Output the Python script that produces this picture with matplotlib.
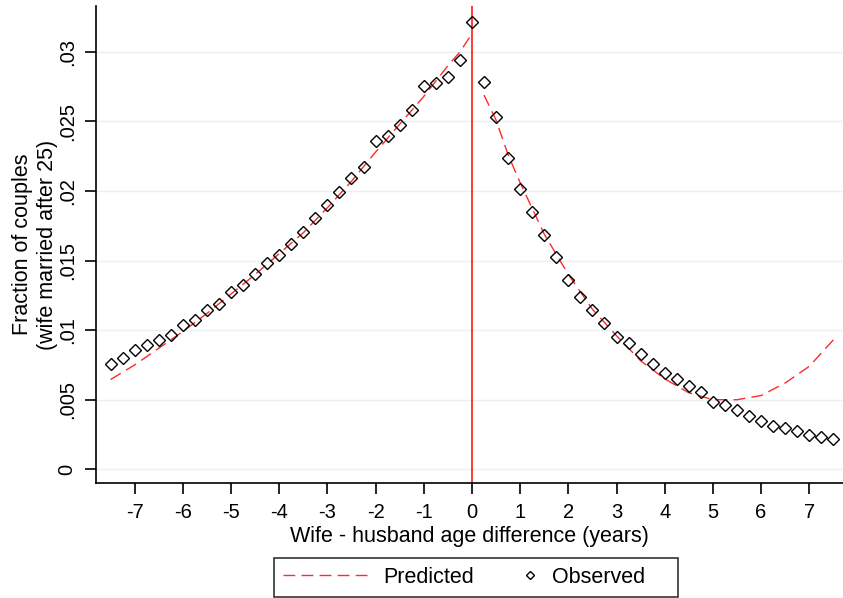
import matplotlib
matplotlib.use("Agg")
import matplotlib.pyplot as plt
from matplotlib.legend_handler import HandlerLine2D
import numpy as np

plt.rcParams['font.family'] = ['Liberation Sans', 'DejaVu Sans']

# observed fractions, age difference -7.5 .. 7.5 in quarter years
obs_x = np.arange(-7.5, 7.51, 0.25)
obs_y = [0.0076, 0.0080, 0.00856, 0.00892, 0.00928, 0.00964, 0.01038, 0.01072,
         0.01146, 0.01187, 0.01273, 0.01326, 0.01403, 0.01482, 0.0154, 0.01619,
         0.01705, 0.01806, 0.01899, 0.01995, 0.02091, 0.02175, 0.02357, 0.02396,
         0.02477, 0.02585, 0.02755, 0.02779, 0.0282, 0.0294, 0.03218,
         0.02786, 0.0253, 0.0224, 0.02014, 0.01851, 0.01683, 0.01527, 0.0136,
         0.0124, 0.01144, 0.01048, 0.00952, 0.00909, 0.00832, 0.0076, 0.00693,
         0.0065, 0.00597, 0.00556, 0.00484, 0.00465, 0.00424, 0.00381, 0.00347,
         0.00312, 0.00297, 0.00273, 0.00245, 0.00232, 0.00214]

# predicted curve, wife older / younger side
pred_left_x = [-7.5, -7.0, -6.5, -6.0, -5.5, -5.0, -4.5, -4.0, -3.5, -3.0,
               -2.5, -2.0, -1.5, -1.0, -0.5, -0.25, 0.0]
pred_left_y = [0.00645, 0.0075, 0.0087, 0.0099, 0.0112, 0.0126, 0.0140, 0.0155,
               0.0170, 0.0188, 0.0207, 0.0228, 0.0248, 0.0268, 0.0290, 0.0300, 0.0313]
pred_right_x = [0.25, 0.5, 0.75, 1.0, 1.5, 2.0, 2.5, 3.0, 3.5, 4.0, 4.5,
                5.0, 5.5, 6.0, 6.5, 7.0, 7.5]
pred_right_y = [0.0269, 0.0251, 0.0226, 0.0206, 0.0169, 0.0140, 0.0115, 0.0096,
                0.0078, 0.0065, 0.0055, 0.0050, 0.0050, 0.0053, 0.0062, 0.0074, 0.0093]

xticks = list(range(-7, 8))
yticks = [0, 0.005, 0.01, 0.015, 0.02, 0.025, 0.03]
ytick_labels = ['0', '.005', '.01', '.015', '.02', '.025', '.03']


class MarkerRight(HandlerLine2D):
    # put the legend marker close to its label (marker sits at the middle point)
    def get_xdata(self, legend, xdescent, ydescent, width, height, fontsize):
        right = width - xdescent
        return [right - 0.6 * fontsize, right], [right - 0.3 * fontsize]


fig = plt.figure(figsize=(8.43, 5.98), dpi=100)
ax = fig.add_axes([0.114, 0.192, 0.886, 0.798])

red = '#ff2a2a'
ax.axvline(0, color=red, lw=1.3, zorder=2)
ax.plot(pred_left_x, pred_left_y, color=red, lw=1.0, dashes=(8.5, 4.5), label='Predicted', zorder=3)
ax.plot(pred_right_x, pred_right_y, color=red, lw=1.0, dashes=(8.5, 4.5), zorder=3)
obs_line, = ax.plot(obs_x, obs_y, linestyle='none', marker='D', markersize=5.7,
                    markerfacecolor='none', markeredgecolor='black', markeredgewidth=1.0,
                    label='Observed    ', zorder=4)

ax.set_xlim(-7.8, 7.7)
ax.set_ylim(-0.001, 0.0333)
ax.set_xticks(xticks)
ax.set_xticklabels([str(t) for t in xticks])
ax.set_yticks(yticks)
ax.set_yticklabels(ytick_labels, rotation=90, va='center')
ax.grid(axis='y', color='#eaf0f2', lw=1.0)
ax.set_axisbelow(True)

for s in ['top', 'right']:
    ax.spines[s].set_visible(False)
for s in ['left', 'bottom']:
    ax.spines[s].set_linewidth(1.2)
ax.tick_params(direction='out', length=8, width=1.2, labelsize=14.5, pad=6)

ax.set_xlabel('Wife - husband age difference (years)', fontsize=15.5, labelpad=3)
ax.set_ylabel('Fraction of couples\n(wife married after 25)', fontsize=15.5, labelpad=0)

leg = fig.legend(loc='center', bbox_to_anchor=(0.5647, 0.0343), ncol=2, fontsize=15.5,
                 frameon=True, fancybox=False, edgecolor='black', handlelength=3.9,
                 handletextpad=0.75, columnspacing=-1.0, borderpad=0.4, markerscale=0.7,
                 handler_map={obs_line: MarkerRight()})
leg.get_frame().set_linewidth(1.2)

fig.savefig('out.png', dpi=100)
